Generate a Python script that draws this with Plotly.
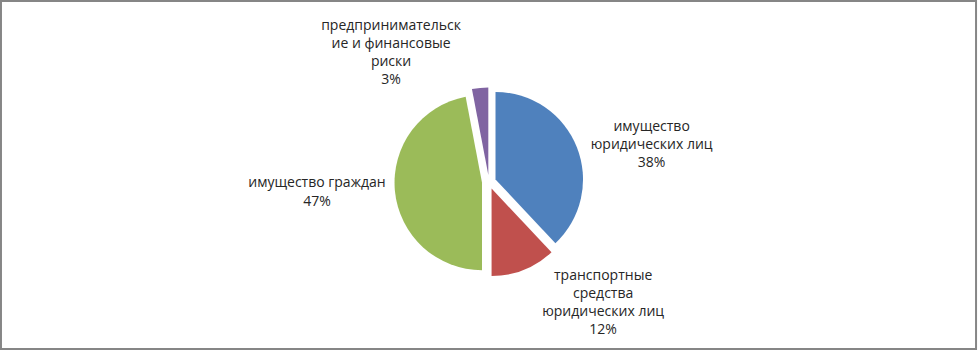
import plotly.graph_objects as go

categories = [
    "имущество<br>юридических лиц",
    "транспортные<br>средства<br>юридических лиц",
    "имущество граждан",
    "предпринимательск<br>ие и финансовые<br>риски",
]
values = [38, 12, 47, 3]
colors = ["#4F81BD", "#C0504D", "#9BBB59", "#8064A2"]

fig = go.Figure(go.Pie(
    labels=categories,
    values=values,
    sort=False,
    direction="clockwise",
    rotation=0,
    pull=[0.08, 0.08, 0.08, 0.08],
    marker=dict(colors=colors, line=dict(color="#FFFFFF", width=0)),
    text=categories,
    texttemplate="%{text}<br>%{percent:.0%}",
    textposition="outside",
    textfont=dict(family="Open Sans", size=14, color="#262626"),
    showlegend=False,
    automargin=False,
    domain=dict(x=[0.2, 0.8], y=[0.21, 0.75]),
    hoverinfo="label+percent",
))

fig.update_layout(
    width=978, height=350,
    margin=dict(l=0, r=0, t=0, b=0, autoexpand=False),
    paper_bgcolor="white",
    plot_bgcolor="white",
    shapes=[dict(type="rect", xref="paper", yref="paper", x0=0.001, y0=0.003, x1=0.998, y1=0.997,
                 line=dict(color="#868686", width=2))],
)

fig.write_html(
    "out.html",
    config={"displayModeBar": False},
    post_script="document.body.style.margin='0';document.body.style.overflow='hidden';",
)
